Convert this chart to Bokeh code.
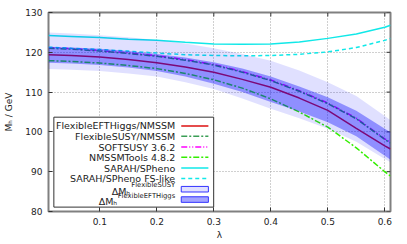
from bokeh.plotting import figure
from bokeh.models import Range1d, FixedTicker, Label, BoxAnnotation, Arrow
from bokeh.embed import file_html
from bokeh.resources import INLINE

# ---- data ----
lam = [0.01, 0.05, 0.10, 0.15, 0.20, 0.25, 0.30, 0.35, 0.40, 0.45, 0.50, 0.55, 0.60, 0.61]

eft_higgs = [119.4, 119.2, 118.8, 118.2, 117.4, 116.3, 115.0, 113.2, 111.2, 108.5, 105.4, 100.9, 96.5, 95.7]
flexible_susy = [121.0, 120.8, 120.3, 119.7, 119.0, 118.0, 116.8, 115.0, 112.9, 110.2, 107.1, 103.3, 98.1, 97.2]
softsusy = [121.15, 120.95, 120.45, 119.85, 119.15, 118.15, 116.95, 115.15, 113.05, 110.35, 107.25, 103.45, 98.25, 97.35]
nmssmtools = [117.9, 117.7, 117.3, 116.7, 115.9, 114.7, 113.1, 111.0, 108.3, 105.0, 101.2, 96.0, 90.0, 88.9]
sarah_spheno = [124.2, 124.0, 123.7, 123.3, 123.0, 122.5, 122.1, 122.0, 122.1, 122.6, 123.5, 124.6, 126.3, 126.8]
sarah_fslike = [121.3, 121.0, 120.7, 120.3, 119.8, 119.4, 119.2, 119.1, 119.2, 119.5, 120.1, 121.2, 123.0, 123.5]

fs_band_lo = [115.8, 115.6, 115.3, 114.7, 113.9, 112.5, 110.8, 108.4, 105.8, 103.4, 100.8, 97.5, 93.2, 92.4]
fs_band_hi = [125.0, 124.7, 124.3, 123.8, 123.1, 122.2, 121.0, 119.6, 117.9, 115.4, 112.5, 109.0, 104.0, 102.9]
eft_band_lo = [117.4, 117.2, 116.8, 116.2, 115.3, 113.9, 112.1, 110.0, 107.5, 105.1, 102.4, 98.9, 94.0, 93.0]
eft_band_hi = [121.4, 121.2, 120.9, 120.3, 119.6, 118.7, 117.5, 115.9, 113.9, 111.4, 108.7, 105.3, 100.8, 99.9]

x_ticks = [0.1, 0.2, 0.3, 0.4, 0.5, 0.6]
y_ticks = [80, 90, 100, 110, 120, 130]

X0, X1 = 0.01, 0.61
Y0, Y1 = 80, 130
FONT = "DejaVu Sans"

p = figure(width=406, height=243, output_backend="svg", toolbar_location=None,
           x_range=Range1d(X0, X1), y_range=Range1d(Y0, Y1),
           min_border_left=48, min_border_right=16, min_border_top=12, min_border_bottom=32,
           x_axis_label="λ", y_axis_label="Mₕ / GeV")
p.background_fill_color = "white"
p.border_fill_color = "white"
p.outline_line_color = "#808080"
p.outline_line_width = 2

for ax in (p.xaxis[0], p.yaxis[0]):
    ax.axis_line_color = None
    ax.major_tick_in = 4
    ax.major_tick_out = 0
    ax.major_tick_line_color = "#333333"
    ax.minor_tick_line_color = None
    ax.major_label_text_font = FONT
    ax.major_label_text_font_size = "9px"
    ax.major_label_text_color = "#222222"
    ax.axis_label_text_font = FONT
    ax.axis_label_text_font_size = "9px"
    ax.axis_label_text_font_style = "normal"
    ax.axis_label_text_color = "#222222"
p.xaxis[0].ticker = FixedTicker(ticks=x_ticks)
p.yaxis[0].ticker = FixedTicker(ticks=y_ticks)
p.xaxis[0].major_label_standoff = 6
p.xaxis[0].axis_label_standoff = 2
p.yaxis[0].major_label_standoff = 6
p.yaxis[0].axis_label_standoff = 8

p.xgrid.ticker = FixedTicker(ticks=x_ticks)
p.ygrid.ticker = FixedTicker(ticks=y_ticks)
for g in (p.xgrid[0], p.ygrid[0]):
    g.grid_line_color = "#a0a0a0"
    g.grid_line_dash = "1 2"
    g.grid_line_width = 1

# mirrored inward ticks on the top and right borders (length ~4px)
tick_dy = (Y1 - Y0) * 4 / 199.0
tick_dx = (X1 - X0) * 4 / 342.0
p.segment(x0=x_ticks, y0=[Y1] * len(x_ticks), x1=x_ticks, y1=[Y1 - tick_dy] * len(x_ticks),
          line_color="#333333", line_width=1)
p.segment(x0=[X1] * len(y_ticks), y0=y_ticks, x1=[X1 - tick_dx] * len(y_ticks), y1=y_ticks,
          line_color="#333333", line_width=1)

# ---- lines ----
C_RED = "#dd1111"
C_FS = "#3a9e55"
C_SOFT = "#ff00ff"
C_NMT = "#33ee00"
C_CYAN = "#11e8e8"
LW = 1.5
p.line(lam, eft_higgs, line_color=C_RED, line_width=LW)
p.line(lam, softsusy, line_color=C_SOFT, line_width=LW, line_dash="6 2 1 2 1 2")
p.line(lam, flexible_susy, line_color=C_FS, line_width=LW, line_dash="6 2 2 2")
p.line(lam, nmssmtools, line_color=C_NMT, line_width=LW, line_dash="6 2 2 2")
p.line(lam, sarah_spheno, line_color=C_CYAN, line_width=LW)
p.line(lam, sarah_fslike, line_color=C_CYAN, line_width=LW, line_dash="4 3")

# ---- bands ----
p.varea(x=lam, y1=fs_band_lo, y2=fs_band_hi, fill_color="#0000ff", fill_alpha=0.12)
p.varea(x=lam, y1=eft_band_lo, y2=eft_band_hi, fill_color="#0000ff", fill_alpha=0.36)

# ---- legend (manual, gnuplot style) ----
p.add_layout(BoxAnnotation(left=0.0194, right=0.2998, bottom=81.1, top=103.7,
                           fill_color="white", fill_alpha=1.0,
                           line_color="#333333", line_width=1, line_alpha=1.0))

row_y = [101.5, 98.9, 96.2, 93.6, 90.9, 88.3, 85.6, 83.0]
text_x = 0.2323
s0, s1 = 0.2429, 0.2905
entries = [
    ("FlexibleEFTHiggs/NMSSM", C_RED, "solid"),
    ("FlexibleSUSY/NMSSM", C_FS, "6 2 2 2"),
    ("SOFTSUSY 3.6.2", C_SOFT, "6 2 1 2 1 2"),
    ("NMSSMTools 4.8.2", C_NMT, "6 2 2 2"),
    ("SARAH/SPheno", C_CYAN, "solid"),
    ("SARAH/SPheno FS-like", C_CYAN, "4 3"),
]
for (txt, col, dash), yy in zip(entries, row_y[:6]):
    p.add_layout(Label(x=text_x, y=yy, text=txt, text_align="right", text_baseline="middle",
                       text_font=FONT, text_font_size="9.5px", text_color="#222222"))
    p.add_layout(Arrow(end=None, start=None, x_start=s0, y_start=yy, x_end=s1, y_end=yy,
                       line_color=col, line_width=LW, line_dash=dash))

for (sup, supw, alpha), yy in zip([("FlexibleSUSY", 45, 0.12), ("FlexibleEFTHiggs", 58, 0.36)], row_y[6:]):
    p.add_layout(Label(x=text_x, y=yy, y_offset=4, text=sup, text_align="right",
                       text_baseline="middle", text_font=FONT, text_font_size="6.8px",
                       text_color="#222222"))
    p.add_layout(Label(x=text_x, y=yy, x_offset=-supw, y_offset=-2, text="ΔMₕ",
                       text_align="right", text_baseline="middle", text_font=FONT,
                       text_font_size="9.5px", text_color="#222222"))
    p.add_layout(BoxAnnotation(left=s0, right=s1, bottom=yy - 0.7, top=yy + 0.7,
                               fill_color="#0000ff", fill_alpha=alpha,
                               line_color="#3333ff", line_width=1, line_alpha=1.0))

open("out.html", "w").write(file_html(p, INLINE))
